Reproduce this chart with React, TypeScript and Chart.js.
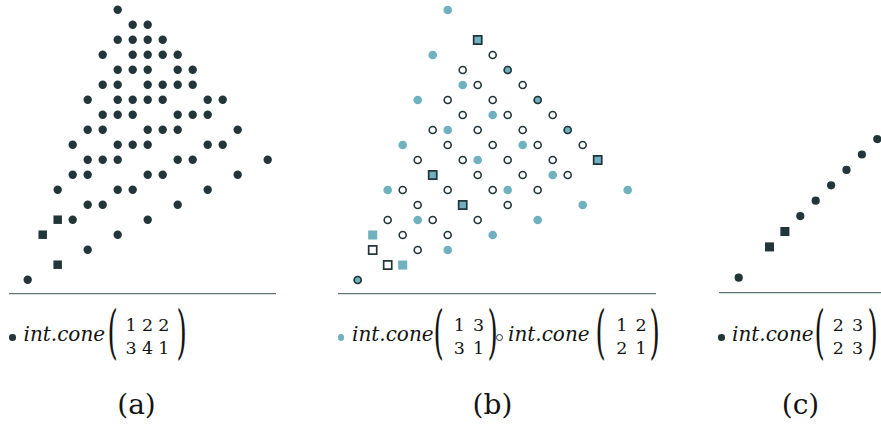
import React, { useEffect, useRef } from "react";
import { Chart, registerables } from "chart.js";

Chart.register(...registerables);

const DARK = "#22363a";
const TEAL = "#6fb1be";
const AXIS = "#637476";
const INK = "#141414";
const FONT = "'DejaVu Serif', 'Liberation Serif', serif";

type P = [number, number];

// ---------- Panel (a): int.cone (1 2 2 ; 3 4 1)
const aCircles: P[] = [
  [6, 18],
  [7, 17], [8, 17],
  [6, 16], [7, 16], [8, 16], [9, 16],
  [5, 15], [7, 15], [8, 15], [9, 15], [10, 15],
  [6, 14], [7, 14], [8, 14], [10, 14], [11, 14],
  [5, 13], [6, 13], [8, 13], [9, 13], [10, 13], [11, 13],
  [4, 12], [6, 12], [7, 12], [8, 12], [9, 12], [12, 12], [13, 12],
  [5, 11], [6, 11], [7, 11], [10, 11], [11, 11], [12, 11],
  [4, 10], [5, 10], [8, 10], [9, 10], [10, 10], [14, 10],
  [3, 9], [6, 9], [7, 9], [8, 9], [12, 9], [13, 9],
  [4, 8], [5, 8], [6, 8], [10, 8], [11, 8], [16, 8],
  [3, 7], [4, 7], [8, 7], [9, 7], [14, 7],
  [2, 6], [6, 6], [7, 6], [12, 6],
  [4, 5], [5, 5], [10, 5],
  [3, 4], [8, 4],
  [6, 3],
  [4, 2],
  [0, 0],
];
const aSquares: P[] = [[1, 3], [2, 4], [2, 1]];
const aMatrix = [["1", "2", "2"], ["3", "4", "1"]];

// ---------- Panel (b): int.cone (1 3 ; 3 1)  and  int.cone (1 2 ; 2 1)
const bTealCircles: P[] = [
  [6, 18], [5, 15], [7, 13], [4, 12], [9, 11], [6, 10], [3, 9], [11, 9],
  [8, 8], [13, 7], [2, 6], [10, 6], [18, 6], [15, 5], [4, 4], [12, 4],
  [9, 3], [6, 2],
  [10, 14], [12, 12], [14, 10], [0, 0],
];
const bTealSquares: P[] = [[1, 3], [3, 1], [8, 16], [5, 7], [7, 5], [16, 8]];
const bOpenCircles: P[] = [
  [9, 15], [7, 14], [8, 13], [11, 13], [6, 12], [9, 12], [7, 11], [10, 11],
  [13, 11], [5, 10], [8, 10], [11, 10], [6, 9], [9, 9], [12, 9], [15, 9],
  [4, 8], [7, 8], [10, 8], [13, 8], [8, 7], [11, 7], [14, 7], [3, 6],
  [6, 6], [9, 6], [12, 6], [4, 5], [10, 5], [2, 4], [5, 4], [8, 4],
  [3, 3], [6, 3], [4, 2],
  [10, 14], [12, 12], [14, 10], [0, 0],
];
const bOpenSquares: P[] = [[1, 2], [2, 1], [8, 16], [5, 7], [7, 5], [16, 8]];
const bMatrix1 = [["1", "3"], ["3", "1"]];
const bMatrix2 = [["1", "2"], ["2", "1"]];

// ---------- Panel (c): int.cone (2 3 ; 2 3)
const cCircles: P[] = [[0, 0], [4, 4], [5, 5], [6, 6], [7, 7], [8, 8], [9, 9]];
const cSquares: P[] = [[2, 2], [3, 3]];
const cMatrix = [["2", "3"], ["2", "3"]];

const subLabels = ["(a)", "(b)", "(c)"];
const coneLabel = "int.cone";

const pts = (a: P[]) => a.map(([x, y]) => ({ x, y }));

function Panel(props: {
  left: number; width: number; height: number;
  x0: number; y0: number; unit: number; datasets: any[];
}) {
  const ref = useRef<HTMLCanvasElement>(null);
  const { left, width, height, x0, y0, unit, datasets } = props;
  useEffect(() => {
    const pad = 3;
    const areaH = height - pad;
    const xMin = -(x0 - left) / unit;
    const xMax = xMin + width / unit;
    const yMin = -(areaH - y0) / unit;
    const yMax = yMin + areaH / unit;
    const chart = new Chart(ref.current!, {
      type: "scatter",
      data: { datasets },
      options: {
        animation: false,
        responsive: false,
        maintainAspectRatio: false,
        devicePixelRatio: 1,
        events: [],
        layout: { autoPadding: false, padding: { left: 0, right: 0, top: 0, bottom: pad } },
        plugins: { legend: { display: false }, tooltip: { enabled: false } },
        scales: {
          x: {
            type: "linear", min: xMin, max: xMax, display: true,
            grid: { display: false, drawTicks: false },
            ticks: { display: false },
            border: { display: true, color: AXIS, width: 1.2 },
          },
          y: { type: "linear", min: yMin, max: yMax, display: false },
        },
      },
    } as any);
    return () => chart.destroy();
  }, []);
  return (
    <canvas
      ref={ref}
      width={width}
      height={height}
      style={{ position: "absolute", left, top: 0, width, height }}
    />
  );
}

const filled = (data: P[], color: string, style: string, r: number) => ({
  data: pts(data), clip: false, pointStyle: style, pointRadius: r,
  pointBackgroundColor: color, pointBorderWidth: 0, pointBorderColor: color,
});
const open = (data: P[], style: string, r: number, w: number) => ({
  data: pts(data), clip: false, pointStyle: style, pointRadius: r,
  pointBackgroundColor: "rgba(255,255,255,0)", pointBorderWidth: w, pointBorderColor: DARK,
});

// baseline-positioned text (DejaVu metrics)
function Txt(props: { x: number; base: number; size: number; italic?: boolean; center?: boolean; ls?: number; ws?: number; children: any }) {
  const { x, base, size, italic, center, ls = 0, ws = 0 } = props;
  const style: any = {
    position: "absolute", top: base - 0.846 * size, fontSize: size, lineHeight: `${size}px`,
    fontFamily: FONT, fontStyle: italic ? "italic" : "normal", whiteSpace: "pre", color: INK,
    letterSpacing: ls, wordSpacing: ws,
  };
  if (center) { style.left = x - 100; style.width = 200; style.textAlign = "center"; }
  else style.left = x;
  return <div style={style}>{props.children}</div>;
}

const PSIZE = 24;
function Paren({ inkEdge, ch }: { inkEdge: number; ch: string }) {
  const off = 0.532 * PSIZE;
  const sx = 1.1;
  const c = 0.195 * PSIZE;
  const left = ch === "(" ? inkEdge - (c - (c - 0.08 * PSIZE) * sx) : inkEdge - (c + (0.31 * PSIZE - c) * sx);
  return (
    <div style={{
      position: "absolute", left, top: 334.5 - off, fontSize: PSIZE, lineHeight: `${PSIZE}px`,
      fontFamily: FONT, color: INK, transformOrigin: `${c}px ${off}px`, transform: `scale(${sx}, 2.4)`,
    }}>{ch}</div>
  );
}

function Bullet({ cx, color, hollow }: { cx: number; color: string; hollow?: boolean }) {
  const r = hollow ? 3.6 : 3.3;
  return (
    <div style={{
      position: "absolute", left: cx - r, top: 337.5 - r, width: 2 * r, height: 2 * r,
      borderRadius: "50%", boxSizing: "border-box",
      background: hollow ? "#fff" : color, border: hollow ? `1.2px solid ${DARK}` : "none",
    }} />
  );
}

function Matrix({ cx, lp, rp, rows, ws }: { cx: number; lp: number; rp: number; rows: string[][]; ws: number }) {
  return (
    <>
      <Paren inkEdge={lp} ch="(" />
      <Txt x={cx} base={331.5} size={17.5} center ws={ws}>{rows[0].join(" ")}</Txt>
      <Txt x={cx} base={355} size={17.5} center ws={ws}>{rows[1].join(" ")}</Txt>
      <Paren inkEdge={rp} ch=")" />
    </>
  );
}

export default function App() {
  return (
    <div style={{
      position: "fixed", left: 0, top: 0, width: 881, height: 424, overflow: "hidden",
      background: "#fff",
    }}>
      <Panel left={9} width={267} height={297} x0={27.7} y0={279.7} unit={15}
        datasets={[filled(aSquares, DARK, "rect", 6), filled(aCircles, DARK, "circle", 4.2)]} />
      <Panel left={338} width={318} height={297} x0={357.7} y0={280} unit={15}
        datasets={[
          open(bOpenCircles, "circle", 3.5, 1.6),
          open(bOpenSquares, "rect", 5.7, 1.7),
          filled(bTealCircles, TEAL, "circle", 4.3),
          filled(bTealSquares, TEAL, "rect", 6.4),
        ]} />
      <Panel left={719} width={162} height={296} x0={738.7} y0={277.7} unit={15.4}
        datasets={[filled(cSquares, DARK, "rect", 6.4), filled(cCircles, DARK, "circle", 4.1)]} />

      {/* legend (a) */}
      <Bullet cx={12.7} color={DARK} />
      <Txt x={23.5} base={341} size={20} italic>{coneLabel}</Txt>
      <Matrix cx={147.5} lp={110} rp={185} rows={aMatrix} ws={-0.3} />

      {/* legend (b) */}
      <Bullet cx={341} color={TEAL} />
      <Txt x={352} base={341} size={20} italic>{coneLabel}</Txt>
      <Matrix cx={469} lp={436} rp={496} rows={bMatrix1} ws={2.5} />
      <Bullet cx={499.5} color={DARK} hollow />
      <Txt x={508} base={341} size={20} italic>{coneLabel}</Txt>
      <Matrix cx={631.5} lp={598} rp={658} rows={bMatrix2} ws={2.5} />

      {/* legend (c) */}
      <Bullet cx={721.5} color={DARK} />
      <Txt x={732} base={341} size={20} italic>{coneLabel}</Txt>
      <Matrix cx={848} lp={817} rp={876} rows={cMatrix} ws={2.5} />

      {/* sub-figure labels */}
      <Txt x={136.5} base={415} size={28} center>{subLabels[0]}</Txt>
      <Txt x={492.5} base={415} size={28} center>{subLabels[1]}</Txt>
      <Txt x={800.5} base={415} size={28} center>{subLabels[2]}</Txt>
    </div>
  );
}
